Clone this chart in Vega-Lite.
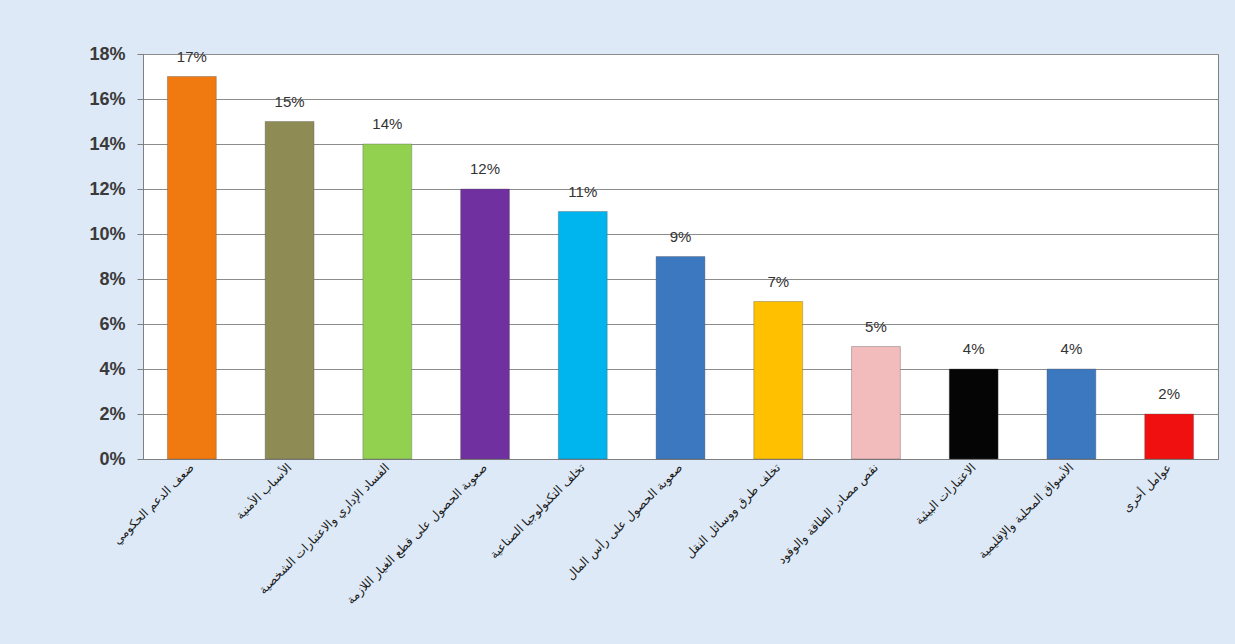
{
  "$schema": "https://vega.github.io/schema/vega-lite/v6.json",
  "width": 1075,
  "height": 405,
  "autosize": {"type": "none"},
  "padding": {"left": 143, "top": 54, "right": 17, "bottom": 185},
  "background": "#dde9f6",
  "config": {
    "view": {"fill": "white", "stroke": "#7f7f7f", "strokeWidth": 1},
    "font": "DejaVu Sans"
  },
  "data": {
    "values": [
      {"factor": "ضعف الدعم الحكومي", "value": 0.17, "color": "#F07A10"},
      {"factor": "الأسباب الأمنية", "value": 0.15, "color": "#8F8B55"},
      {"factor": "الفساد الإداري والاعتبارات الشخصية", "value": 0.14, "color": "#92D050"},
      {"factor": "صعوبة الحصول على قطع الغيار اللازمة", "value": 0.12, "color": "#7030A0"},
      {"factor": "تخلف التكنولوجيا الصناعية", "value": 0.11, "color": "#00B4EE"},
      {"factor": "صعوبة الحصول على رأس المال", "value": 0.09, "color": "#3C78C0"},
      {"factor": "تخلف طرق ووسائل النقل", "value": 0.07, "color": "#FFC000"},
      {"factor": "نقص مصادر الطاقة والوقود", "value": 0.05, "color": "#F2BCBC"},
      {"factor": "الاعتبارات البيئية", "value": 0.04, "color": "#050505"},
      {"factor": "الأسواق المحلية والإقليمية", "value": 0.04, "color": "#3C78C0"},
      {"factor": "عوامل أخرى", "value": 0.02, "color": "#F01010"}
    ]
  },
  "encoding": {
    "x": {
      "field": "factor",
      "type": "nominal",
      "sort": null,
      "scale": {"paddingInner": 0.5, "paddingOuter": 0.25},
      "axis": {
        "title": null,
        "labelAngle": -45,
        "labelAlign": "right",
        "labelBaseline": "middle",
        "labelFontSize": 12,
        "labelColor": "#1a1a1a",
        "labelPadding": 6,
        "labelLimit": 260,
        "ticks": false,
        "domainColor": "#7f7f7f",
        "grid": false
      }
    },
    "y": {
      "field": "value",
      "type": "quantitative",
      "scale": {"domain": [0, 0.18], "nice": false},
      "axis": {
        "title": null,
        "format": ".0%",
        "values": [0, 0.02, 0.04, 0.06, 0.08, 0.1, 0.12, 0.14, 0.16, 0.18],
        "labelFont": "Liberation Sans",
        "labelFontWeight": "bold",
        "labelFontSize": 18,
        "labelColor": "#3a3a3a",
        "labelPadding": 12,
        "tickSize": 6,
        "tickColor": "#7f7f7f",
        "domainColor": "#7f7f7f",
        "gridColor": "#8c8c8c",
        "gridWidth": 1
      }
    }
  },
  "layer": [
    {
      "mark": {"type": "bar", "stroke": "#555", "strokeWidth": 0.6, "strokeOpacity": 0.6},
      "encoding": {
        "color": {"field": "color", "type": "nominal", "scale": null}
      }
    },
    {
      "mark": {"type": "text", "dy": -12, "baseline": "bottom", "fontSize": 15, "font": "Liberation Sans", "color": "#333"},
      "encoding": {
        "text": {"field": "value", "type": "quantitative", "format": ".0%"}
      }
    }
  ]
}
